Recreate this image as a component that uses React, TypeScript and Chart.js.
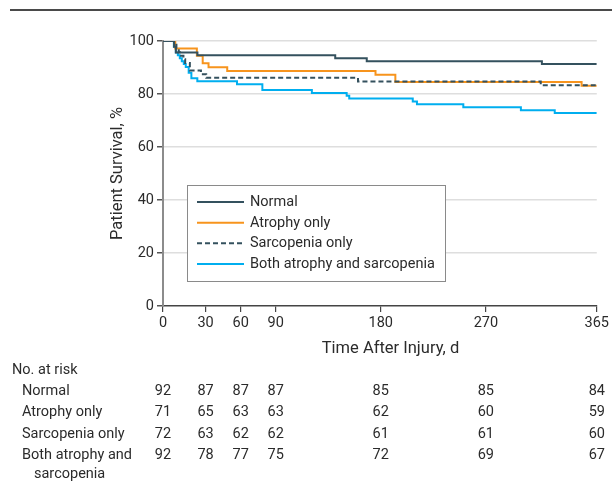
import React, { useEffect, useRef } from "react";
import { Chart, registerables } from "chart.js";

Chart.register(...registerables);

// ---- axis definitions ----
const X_START = -6.5; // axis origin (labelled "0" in the figure)
const X_END = 365;
const X_TICK_VALUES = [X_START, 30, 60, 90, 180, 270, 365];
const X_TICK_LABELS = ["0", "30", "60", "90", "180", "270", "365"];
const Y_MIN = 0;
const Y_MAX = 100;
const Y_STEP = 20;

// ---- series ----
const SERIES_NAMES = ["Normal", "Atrophy only", "Sarcopenia only", "Both atrophy and sarcopenia"];

const NORMAL_DAYS = [X_START, 3, 4.5, 23, 141, 168, 318, 365];
const NORMAL_SURV = [100, 97.8, 95.7, 94.6, 93.5, 92.4, 91.3, 91.3];

const ATROPHY_DAYS = [X_START, 4, 22.5, 27.5, 32.5, 48.5, 175.5, 192.5, 352, 365];
const ATROPHY_SURV = [100, 97.2, 94.4, 91.6, 90.1, 88.7, 87.3, 84.5, 83.1, 83.1];

const SARCO_DAYS = [X_START, 3, 5, 7, 9, 11, 12.5, 16.5, 26, 30.5, 160.5, 317, 365];
const SARCO_SURV = [100, 98.6, 97.2, 95.8, 94.4, 93.1, 91.7, 88.9, 87.5, 86.1, 84.7, 83.3, 83.3];

const BOTH_DAYS = [X_START, 2.8, 4.5, 6.2, 7.9, 9.6, 11.3, 13, 15.5, 17.8, 22.9, 56.9, 78.6, 121, 150.8, 153, 207.4, 211, 250.7, 300, 329, 365];
const BOTH_SURV = [100, 97.8, 95.7, 94.6, 93.5, 92.4, 91.3, 90.2, 88.0, 85.9, 84.8, 83.7, 81.5, 80.4, 79.3, 78.3, 77.2, 76.1, 75.0, 73.9, 72.8, 72.8];

// ---- number at risk ----
const RISK_TITLE = "No. at risk";
const RISK_NORMAL = [92, 87, 87, 87, 85, 85, 84];
const RISK_ATROPHY = [71, 65, 63, 63, 62, 60, 59];
const RISK_SARCO = [72, 63, 62, 62, 61, 61, 60];
const RISK_BOTH = [92, 78, 77, 75, 72, 69, 67];
const RISK_ROW_LABELS = [["Normal"], ["Atrophy only"], ["Sarcopenia only"], ["Both atrophy and", "sarcopenia"]];

const X_TITLE = "Time After Injury, d";
const Y_TITLE = "Patient Survival, %";

const FONT = "Roboto, 'Noto Sans', sans-serif";
const TEXT = "#2b2b2b";
const C_NORMAL = "#34515e";
const C_ATROPHY = "#f7941d";
const C_SARCO = "#34515e";
const C_BOTH = "#00aeef";

const BODY_SIZE = 14.5;
const TITLE_SIZE = 16.5;

const toPoints = (xs: number[], ys: number[]) => xs.map((x, i) => ({ x, y: ys[i] }));

const overlayPlugin = {
  id: "overlay",
  afterDraw(chart: any) {
    const ctx = chart.ctx as CanvasRenderingContext2D;
    const xs = chart.scales.x;
    ctx.save();
    // top rule
    ctx.strokeStyle = "#4a4a4a";
    ctx.lineWidth = 2;
    ctx.beginPath();
    ctx.moveTo(10, 10);
    ctx.lineTo(612, 10);
    ctx.stroke();

    // x-axis title (sits right of the plot centre in the figure)
    ctx.fillStyle = TEXT;
    ctx.font = `${TITLE_SIZE}px ${FONT}`;
    ctx.textAlign = "center";
    ctx.textBaseline = "middle";
    ctx.fillText(X_TITLE, 390.5, 349);

    // legend
    const datasets = chart.data.datasets;
    const bx = 187.5, by = 185.5, bw = 258, bh = 96;
    ctx.fillStyle = "#ffffff";
    ctx.fillRect(bx, by, bw, bh);
    ctx.strokeStyle = "#8a8a8a";
    ctx.lineWidth = 1;
    ctx.strokeRect(bx, by, bw, bh);
    const rowY = [202, 222.7, 243.3, 264];
    ctx.font = `${BODY_SIZE}px ${FONT}`;
    ctx.textBaseline = "middle";
    ctx.textAlign = "left";
    datasets.forEach((ds: any, i: number) => {
      ctx.strokeStyle = ds.borderColor;
      ctx.lineWidth = 2;
      ctx.setLineDash(ds.borderDash || []);
      ctx.beginPath();
      ctx.moveTo(197, rowY[i]);
      ctx.lineTo(244, rowY[i]);
      ctx.stroke();
      ctx.setLineDash([]);
      ctx.fillStyle = TEXT;
      ctx.fillText(ds.label, 250, rowY[i] + 0.5);
    });

    // risk table
    ctx.fillStyle = TEXT;
    ctx.font = `${BODY_SIZE}px ${FONT}`;
    ctx.textAlign = "left";
    ctx.fillText(RISK_TITLE, 12, 370);
    const rows = [RISK_NORMAL, RISK_ATROPHY, RISK_SARCO, RISK_BOTH];
    const ry = [391, 412.7, 434.3, 455.7];
    rows.forEach((vals, r) => {
      ctx.textAlign = "left";
      const labels = RISK_ROW_LABELS[r];
      ctx.fillText(labels[0], 22, ry[r]);
      if (labels[1]) ctx.fillText(labels[1], 34, ry[r] + 19);
      ctx.textAlign = "center";
      vals.forEach((v, i) => {
        const px = xs.getPixelForValue(X_TICK_VALUES[i]);
        ctx.fillText(String(v), px, ry[r]);
      });
    });
    ctx.restore();
  },
};

export default function App() {
  const ref = useRef<HTMLCanvasElement | null>(null);
  useEffect(() => {
    if (!ref.current) return;
    const chart = new Chart(ref.current, {
      type: "line",
      data: {
        datasets: [
          { label: SERIES_NAMES[0], data: toPoints(NORMAL_DAYS, NORMAL_SURV), borderColor: C_NORMAL, order: 0 },
          { label: SERIES_NAMES[1], data: toPoints(ATROPHY_DAYS, ATROPHY_SURV), borderColor: C_ATROPHY, order: 2 },
          { label: SERIES_NAMES[2], data: toPoints(SARCO_DAYS, SARCO_SURV), borderColor: C_SARCO, borderDash: [5, 3], order: 1 },
          { label: SERIES_NAMES[3], data: toPoints(BOTH_DAYS, BOTH_SURV), borderColor: C_BOTH, order: 3 },
        ] as any,
      },
      options: {
        responsive: false,
        animation: false,
        layout: { padding: { left: 0, right: 12, top: 41, bottom: 131 } },
        elements: {
          line: { borderWidth: 2, stepped: true, tension: 0, fill: false } as any,
          point: { radius: 0, hoverRadius: 0 },
        },
        plugins: { legend: { display: false }, tooltip: { enabled: false } },
        events: [],
        scales: {
          x: {
            type: "linear",
            min: X_START,
            max: X_END,
            afterBuildTicks: (scale: any) => {
              scale.ticks = X_TICK_VALUES.map((v) => ({ value: v }));
            },
            afterFit: (scale: any) => {
              scale.height = 60;
            },
            ticks: {
              autoSkip: false,
              maxRotation: 0,
              padding: 3,
              color: TEXT,
              font: { family: FONT, size: BODY_SIZE },
              callback: (_v: any, i: number) => X_TICK_LABELS[i],
            },
            grid: { drawOnChartArea: false, drawTicks: true, tickLength: 6, tickColor: "#444", lineWidth: 1.2 },
            border: { color: "#444", width: 1.5 },
            title: { display: false },
          },
          y: {
            type: "linear",
            min: Y_MIN,
            max: Y_MAX,
            afterFit: (scale: any) => {
              scale.width = 163;
            },
            ticks: { stepSize: Y_STEP, padding: 3, color: TEXT, font: { family: FONT, size: BODY_SIZE } },
            grid: {
              color: (c: any) => (c.tick && c.tick.value === 0 ? "rgba(0,0,0,0)" : "#dedede"),
              lineWidth: 1.5,
              tickColor: "#555",
              tickLength: 6,
            },
            border: { color: "#8c8c8c", width: 2 },
            title: {
              display: true,
              text: Y_TITLE,
              color: TEXT,
              font: { family: FONT, size: TITLE_SIZE },
              padding: { top: 108.1, bottom: 0 },
            },
          },
        },
      } as any,
      plugins: [overlayPlugin],
    });
    return () => chart.destroy();
  }, []);
  return (
    <div style={{ position: "absolute", left: 0, top: 0, width: 612, height: 497, background: "#fff" }}>
      <canvas ref={ref} width={612} height={497} style={{ display: "block" }} />
    </div>
  );
}
